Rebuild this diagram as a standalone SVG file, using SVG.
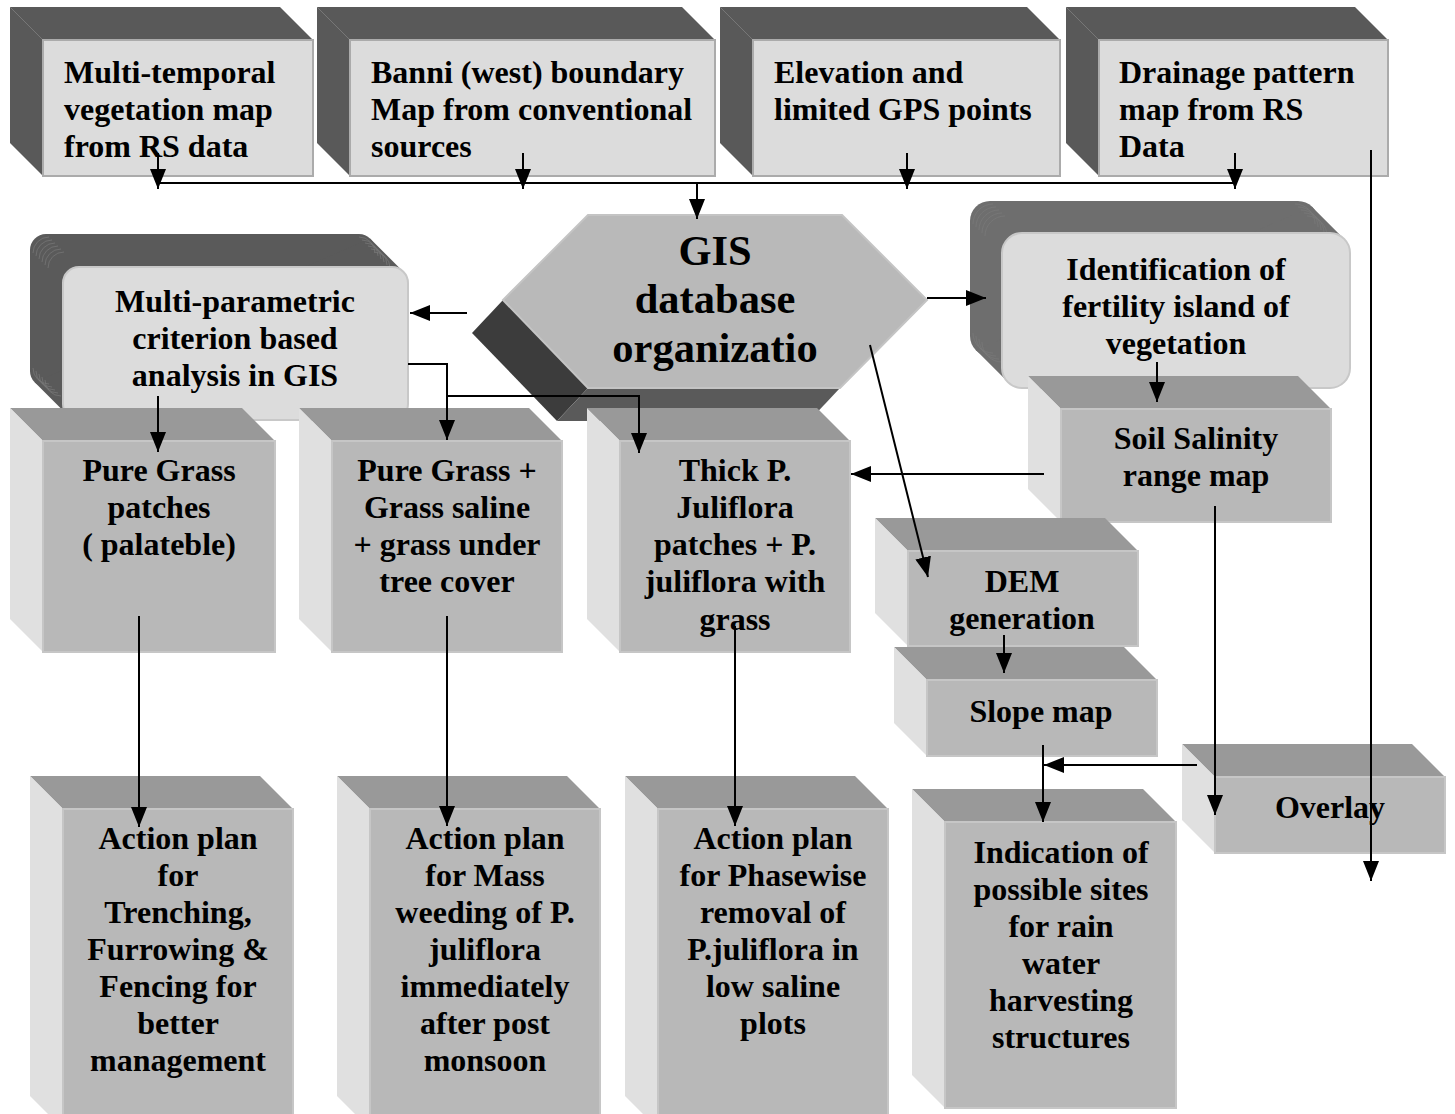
<svg xmlns="http://www.w3.org/2000/svg" width="1455" height="1114" viewBox="0 0 1455 1114">
<defs>
<style>
.t{font-family:"Liberation Serif","Times New Roman",serif;font-weight:bold;font-size:32px;fill:#000}
.m{text-anchor:middle}
.c{stroke:#000;stroke-width:2;fill:none}
.a{marker-end:url(#ah)}
.dk{fill:#595959}
.fr{fill:#dcdcdc;stroke:#ababab;stroke-width:2}
.ct{fill:#999999}
.cl{fill:#e0e0e0}
.cf{fill:#b8b8b8;stroke:#c6c6c6;stroke-width:2}
.st{fill:none;stroke:#7a7a7a;stroke-width:0.7}
</style>
<marker id="ah" markerUnits="userSpaceOnUse" markerWidth="20" markerHeight="16" refX="20" refY="8" orient="auto" viewBox="0 0 20 16"><path d="M0,0 L20,8 L0,16 z" fill="#000"/></marker>
</defs>
<rect width="1455" height="1114" fill="#fff"/>

<g id="n-vegmap">
<polygon class="dk" points="10,7 280,7 313,40 313,176 43,176 10,143"/>
<line x1="10" y1="7" x2="43" y2="40" stroke="#777" stroke-width="1"/>
<rect class="fr" x="43" y="40" width="270" height="136"/>
<text class="t"><tspan x="64" y="83">Multi-temporal</tspan><tspan x="64" y="120">vegetation map</tspan><tspan x="64" y="157">from RS data</tspan></text>
</g>
<g id="n-banni">
<polygon class="dk" points="317,7 682,7 715,40 715,176 350,176 317,143"/>
<line x1="317" y1="7" x2="350" y2="40" stroke="#777" stroke-width="1"/>
<rect class="fr" x="350" y="40" width="365" height="136"/>
<text class="t"><tspan x="371" y="83">Banni (west) boundary</tspan><tspan x="371" y="120">Map from conventional</tspan><tspan x="371" y="157">sources</tspan></text>
</g>
<g id="n-elevation">
<polygon class="dk" points="720,7 1027,7 1060,40 1060,176 753,176 720,143"/>
<line x1="720" y1="7" x2="753" y2="40" stroke="#777" stroke-width="1"/>
<rect class="fr" x="753" y="40" width="307" height="136"/>
<text class="t"><tspan x="774" y="83">Elevation and</tspan><tspan x="774" y="120">limited GPS points</tspan></text>
</g>
<g id="n-drainage">
<polygon class="dk" points="1066,7 1355,7 1388,40 1388,176 1099,176 1066,143"/>
<line x1="1066" y1="7" x2="1099" y2="40" stroke="#777" stroke-width="1"/>
<rect class="fr" x="1099" y="40" width="289" height="136"/>
<text class="t"><tspan x="1119" y="83">Drainage pattern</tspan><tspan x="1119" y="120">map from RS</tspan><tspan x="1119" y="157">Data</tspan></text>
</g>

<g id="n-gis">
<polygon fill="#3c3c3c" points="503,300 588,388 557,421 472,333"/>
<polygon fill="#5a5a5a" points="588,388 840,388 809,421 557,421"/>
<polygon fill="#b9b9b9" stroke="#c4c4c4" stroke-width="2" points="588,215 842,215 927,300 840,388 588,388 503,300"/>
<text class="t m" style="font-size:42.5px"><tspan x="715" y="265">GIS</tspan><tspan x="715" y="313">database</tspan><tspan x="715" y="362">organizatio</tspan></text>
</g>

<g id="n-multiparam">
<rect x="30" y="234" width="345" height="153" rx="16" fill="#5a5a5a"/>
<polygon fill="#5a5a5a" points="370.3,238.7 403.3,271.7 67.7,415.3 34.7,382.3"/>
<path class="st" d="M33,253 A16 16 0 0 1 49,237 M36,256 A16 16 0 0 1 52,240 M39,259 A16 16 0 0 1 55,243 M42,262 A16 16 0 0 1 58,246 M45,265 A16 16 0 0 1 61,249 M48,268 A16 16 0 0 1 64,252 M359,237 A16 16 0 0 1 375,253 M362,240 A16 16 0 0 1 378,256 M365,243 A16 16 0 0 1 381,259 M368,246 A16 16 0 0 1 384,262 M371,249 A16 16 0 0 1 387,265 M374,252 A16 16 0 0 1 390,268 M33,368 A16 16 0 0 0 49,384 M36,371 A16 16 0 0 0 52,387 M39,374 A16 16 0 0 0 55,390 M42,377 A16 16 0 0 0 58,393 M45,380 A16 16 0 0 0 61,396"/>
<rect x="63" y="267" width="345" height="153" rx="16" fill="#dcdcdc" stroke="#c8c8c8" stroke-width="2"/>
<text class="t m"><tspan x="235" y="312">Multi-parametric</tspan><tspan x="235" y="349">criterion based</tspan><tspan x="235" y="386">analysis in GIS</tspan></text>
</g>

<g id="n-fertility">
<rect x="970" y="201" width="348" height="155" rx="20" fill="#6e6e6e"/>
<polygon fill="#6e6e6e" points="1312.1,206.9 1344.1,238.9 1007.9,382.1 975.9,350.1"/>
<path class="st" d="M973,224 A20 20 0 0 1 993,204 M976,227 A20 20 0 0 1 996,207 M979,230 A20 20 0 0 1 999,210 M982,233 A20 20 0 0 1 1002,213 M985,236 A20 20 0 0 1 1005,216 M1295,204 A20 20 0 0 1 1315,224 M1298,207 A20 20 0 0 1 1318,227 M1301,210 A20 20 0 0 1 1321,230 M1304,213 A20 20 0 0 1 1324,233 M1307,216 A20 20 0 0 1 1327,236 M973,333 A20 20 0 0 0 993,353 M976,336 A20 20 0 0 0 996,356 M979,339 A20 20 0 0 0 999,359 M982,342 A20 20 0 0 0 1002,362"/>
<rect x="1002" y="233" width="348" height="155" rx="20" fill="#dcdcdc" stroke="#c8c8c8" stroke-width="2"/>
<text class="t m"><tspan x="1176" y="280">Identification of</tspan><tspan x="1176" y="317">fertility island of</tspan><tspan x="1176" y="354">vegetation</tspan></text>
</g>

<g id="n-puregrass">
<polygon class="ct" points="10,408 242,408 275,441 43,441"/>
<polygon class="cl" points="10,408 43,441 43,652 10,619"/>
<rect class="cf" x="43" y="441" width="232" height="211"/>
<text class="t m"><tspan x="159" y="481">Pure Grass</tspan><tspan x="159" y="518">patches</tspan><tspan x="159" y="555">( palateble)</tspan></text>
</g>
<g id="n-grasssaline">
<polygon class="ct" points="299,408 529,408 562,441 332,441"/>
<polygon class="cl" points="299,408 332,441 332,652 299,619"/>
<rect class="cf" x="332" y="441" width="230" height="211"/>
<text class="t m"><tspan x="447" y="481">Pure Grass +</tspan><tspan x="447" y="518">Grass saline</tspan><tspan x="447" y="555">+ grass under</tspan><tspan x="447" y="592">tree cover</tspan></text>
</g>
<g id="n-juliflora">
<polygon class="ct" points="587,408 817,408 850,441 620,441"/>
<polygon class="cl" points="587,408 620,441 620,652 587,619"/>
<rect class="cf" x="620" y="441" width="230" height="211"/>
<text class="t m"><tspan x="735" y="481">Thick P.</tspan><tspan x="735" y="518">Juliflora</tspan><tspan x="735" y="555">patches + P.</tspan><tspan x="735" y="592">juliflora with</tspan><tspan x="735" y="630">grass</tspan></text>
</g>
<g id="n-salinity">
<polygon class="ct" points="1028,376 1298,376 1331,409 1061,409"/>
<polygon class="cl" points="1028,376 1061,409 1061,522 1028,489"/>
<rect class="cf" x="1061" y="409" width="270" height="113"/>
<text class="t m"><tspan x="1196" y="449">Soil Salinity</tspan><tspan x="1196" y="486">range map</tspan></text>
</g>
<g id="n-dem">
<polygon class="ct" points="875,518 1105,518 1138,551 908,551"/>
<polygon class="cl" points="875,518 908,551 908,646 875,613"/>
<rect class="cf" x="908" y="551" width="230" height="95"/>
<text class="t m"><tspan x="1022" y="592">DEM</tspan><tspan x="1022" y="629">generation</tspan></text>
</g>
<g id="n-slope">
<polygon class="ct" points="894,647 1124,647 1157,680 927,680"/>
<polygon class="cl" points="894,647 927,680 927,756 894,723"/>
<rect class="cf" x="927" y="680" width="230" height="76"/>
<text class="t m" x="1041" y="722">Slope map</text>
</g>
<g id="n-overlay">
<polygon class="ct" points="1182,744 1412,744 1445,777 1215,777"/>
<polygon class="cl" points="1182,744 1215,777 1215,853 1182,820"/>
<rect class="cf" x="1215" y="777" width="230" height="76"/>
<text class="t m" x="1330" y="818">Overlay</text>
</g>
<g id="n-action1">
<polygon class="ct" points="30,776 260,776 293,809 63,809"/>
<polygon class="cl" points="30,776 63,809 63,1129 30,1096"/>
<rect class="cf" x="63" y="809" width="230" height="320"/>
<text class="t m"><tspan x="178" y="849">Action plan</tspan><tspan x="178" y="886">for</tspan><tspan x="178" y="923">Trenching,</tspan><tspan x="178" y="960">Furrowing &amp;</tspan><tspan x="178" y="997">Fencing for</tspan><tspan x="178" y="1034">better</tspan><tspan x="178" y="1071">management</tspan></text>
</g>
<g id="n-action2">
<polygon class="ct" points="337,776 567,776 600,809 370,809"/>
<polygon class="cl" points="337,776 370,809 370,1129 337,1096"/>
<rect class="cf" x="370" y="809" width="230" height="320"/>
<text class="t m"><tspan x="485" y="849">Action plan</tspan><tspan x="485" y="886">for Mass</tspan><tspan x="485" y="923">weeding of P.</tspan><tspan x="485" y="960">juliflora</tspan><tspan x="485" y="997">immediately</tspan><tspan x="485" y="1034">after post</tspan><tspan x="485" y="1071">monsoon</tspan></text>
</g>
<g id="n-action3">
<polygon class="ct" points="625,776 855,776 888,809 658,809"/>
<polygon class="cl" points="625,776 658,809 658,1129 625,1096"/>
<rect class="cf" x="658" y="809" width="230" height="320"/>
<text class="t m"><tspan x="773" y="849">Action plan</tspan><tspan x="773" y="886">for Phasewise</tspan><tspan x="773" y="923">removal of</tspan><tspan x="773" y="960">P.juliflora in</tspan><tspan x="773" y="997">low saline</tspan><tspan x="773" y="1034">plots</tspan></text>
</g>
<g id="n-harvesting">
<polygon class="ct" points="912,789 1143,789 1176,822 945,822"/>
<polygon class="cl" points="912,789 945,822 945,1108 912,1075"/>
<rect class="cf" x="945" y="822" width="231" height="286"/>
<text class="t m"><tspan x="1061" y="863">Indication of</tspan><tspan x="1061" y="900">possible sites</tspan><tspan x="1061" y="937">for rain</tspan><tspan x="1061" y="974">water</tspan><tspan x="1061" y="1011">harvesting</tspan><tspan x="1061" y="1048">structures</tspan></text>
</g>

<g id="connectors">
<line class="c" x1="158" y1="183" x2="1235" y2="183"/>
<line class="c a" x1="158" y1="153" x2="158" y2="189"/>
<line class="c a" x1="523" y1="153" x2="523" y2="189"/>
<line class="c a" x1="907" y1="153" x2="907" y2="189"/>
<line class="c a" x1="1235" y1="153" x2="1235" y2="189"/>
<line class="c a" x1="697" y1="183" x2="697" y2="219"/>
<line class="c a" x1="467" y1="313" x2="410" y2="313"/>
<line class="c a" x1="927" y1="298" x2="986" y2="298"/>
<line class="c a" x1="870" y1="345" x2="928" y2="577"/>
<line class="c a" x1="158" y1="396" x2="158" y2="452"/>
<polyline class="c a" points="408,364 447,364 447,440"/>
<polyline class="c a" points="447,396 639,396 639,453"/>
<line class="c a" x1="1157" y1="362" x2="1157" y2="402"/>
<line class="c a" x1="1044" y1="474" x2="851" y2="474"/>
<line class="c a" x1="1215" y1="506" x2="1215" y2="815"/>
<line class="c a" x1="1004" y1="635" x2="1004" y2="673"/>
<line class="c a" x1="1043" y1="745" x2="1043" y2="822"/>
<line class="c a" x1="1197" y1="765" x2="1044" y2="765"/>
<line class="c a" x1="1371" y1="150" x2="1371" y2="881"/>
<line class="c a" x1="139" y1="616" x2="139" y2="827"/>
<line class="c a" x1="447" y1="616" x2="447" y2="826"/>
<line class="c a" x1="735" y1="626" x2="735" y2="826"/>
</g>
</svg>
